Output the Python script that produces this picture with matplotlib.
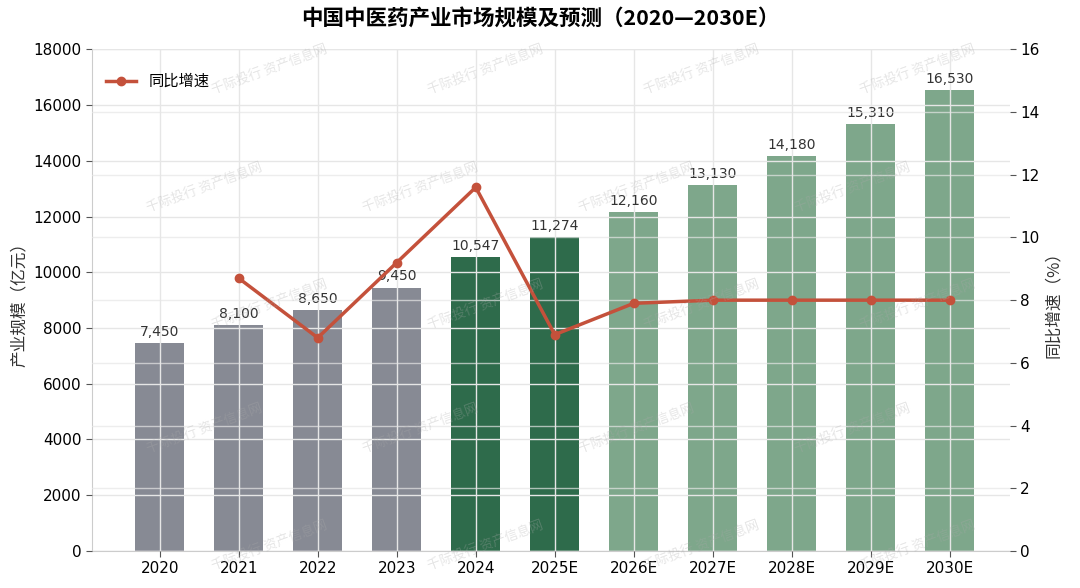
import matplotlib
matplotlib.use('Agg')
import matplotlib.pyplot as plt
import numpy as np

plt.rcParams['font.family'] = ['Noto Sans CJK SC', 'DejaVu Sans']

years = ['2020', '2021', '2022', '2023', '2024', '2025E',
         '2026E', '2027E', '2028E', '2029E', '2030E']
scale = [7450, 8100, 8650, 9450, 10547, 11274, 12160, 13130, 14180, 15310, 16530]
growth_years = years[1:]
growth = [8.7, 6.8, 9.2, 11.6, 6.9, 7.9, 8.0, 8.0, 8.0, 8.0]

grey = '#878a94'
dark_green = '#2e6b4b'
light_green = '#7ea78b'
colors = [grey] * 4 + [dark_green] * 2 + [light_green] * 5

fig = plt.figure(figsize=(10.8, 5.88), dpi=100)
ax = fig.add_axes([0.085, 0.063, 0.85, 0.853])

x = np.arange(len(years))
bars = ax.bar(x, scale, width=0.62, color=colors, zorder=2)
for xi, v in zip(x, scale):
    ax.text(xi, v + 150, f'{v:,}', ha='center', va='bottom', fontsize=10,
            color='#333333', family='DejaVu Sans', zorder=5)

ax.set_xlim(-0.86, 10.76)
ax.set_ylim(0, 18000)
ax.set_yticks(np.arange(0, 18001, 2000))
ax.set_xticks(x)
ax.set_xticklabels(years, fontsize=11, family='DejaVu Sans')
ax.tick_params(axis='y', labelsize=11, length=4, color='#555555')
ax.tick_params(axis='x', length=4, color='#555555')
for lab in ax.get_yticklabels():
    lab.set_family('DejaVu Sans')
ax.set_ylabel('产业规模（亿元）', fontsize=12, color='#333333')
ax.grid(True, color='#e6e6e6', linewidth=1, zorder=3)
ax.set_axisbelow(False)
for s in ['top', 'right']:
    ax.spines[s].set_visible(False)
for s in ['left', 'bottom']:
    ax.spines[s].set_color('#cccccc')

ax2 = ax.twinx()
idx = [years.index(y) for y in growth_years]
ax2.plot(idx, growth, color='#c4513b', linewidth=2.5, marker='o',
         markersize=6, label='同比增速', zorder=4)
ax2.set_ylim(0, 16)
ax2.set_yticks(np.arange(0, 17, 2))
ax2.tick_params(axis='y', labelsize=11, length=4, color='#555555')
for lab in ax2.get_yticklabels():
    lab.set_family('DejaVu Sans')
ax2.set_ylabel('同比增速（%）', fontsize=12, color='#333333')
ax2.grid(True, axis='y', color='#e6e6e6', linewidth=1, alpha=0.7)
for s in ['top', 'right', 'left', 'bottom']:
    ax2.spines[s].set_visible(False)
ax2.legend(loc='upper left', frameon=False, fontsize=11,
           bbox_to_anchor=(0.0, 0.98))

fig.suptitle('中国中医药产业市场规模及预测（2020—2030E）', fontsize=15.5,
             fontweight='bold', y=0.985)

# watermark
for ry, yc in enumerate([0.88, 0.68, 0.48, 0.27, 0.07]):
    shift = 0.0 if ry % 2 == 0 else -0.06
    for xc in [0.25, 0.45, 0.65, 0.85]:
        fig.text(xc + shift, yc, '千际投行 资产信息网', fontsize=9.5,
                 color='#aaaaaa', alpha=0.3, rotation=20,
                 ha='center', va='center', zorder=10)

fig.savefig('out.png', dpi=100)
